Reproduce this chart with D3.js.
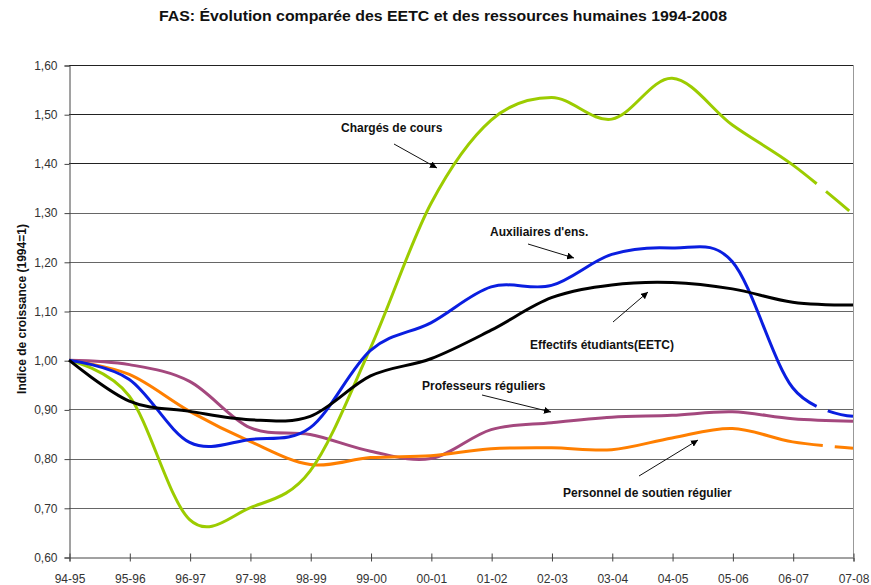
<!DOCTYPE html>
<html>
<head>
<meta charset="utf-8">
<script src="https://cdn.jsdelivr.net/npm/d3@7"></script>
<style>
  html, body { margin: 0; padding: 0; background: #fff; }
  svg { display: block; font-family: "Liberation Sans", Arial, sans-serif; }
</style>
</head>
<body>
<svg id="chart" width="871" height="585"></svg>
<script>
'use strict';

var YEARS = ['94-95', '95-96', '96-97', '97-98', '98-99', '99-00', '00-01',
  '01-02', '02-03', '03-04', '04-05', '05-06', '06-07', '07-08'];
var Y_TICKS = [0.6, 0.7, 0.8, 0.9, 1.0, 1.1, 1.2, 1.3, 1.4, 1.5, 1.6];

var CHARGES = [1.00, 0.927, 0.676, 0.70, 0.775, 1.025, 1.318, 1.488, 1.534, 1.49, 1.573, 1.478, 1.397, 1.297];
var AUXILIAIRES = [1.00, 0.961, 0.833, 0.839, 0.863, 1.02, 1.076, 1.149, 1.152, 1.215, 1.228, 1.20, 0.944, 0.886];
var EETC = [1.00, 0.917, 0.896, 0.879, 0.886, 0.968, 1.003, 1.061, 1.127, 1.153, 1.158, 1.145, 1.118, 1.112];
var PROFESSEURS = [1.00, 0.991, 0.957, 0.863, 0.849, 0.815, 0.800, 0.859, 0.873, 0.884, 0.888, 0.895, 0.881, 0.876];
var SOUTIEN = [1.00, 0.971, 0.896, 0.835, 0.788, 0.802, 0.806, 0.820, 0.822, 0.818, 0.842, 0.861, 0.834, 0.821];

var SERIES = [
  { name: 'Professeurs réguliers', values: PROFESSEURS, color: '#a4487e', dashEnd: false },
  { name: 'Personnel de soutien régulier', values: SOUTIEN, color: '#ff7f00', dashEnd: true },
  { name: 'Chargés de cours', values: CHARGES, color: '#9ccc00', dashEnd: true },
  { name: "Auxiliaires d'ens.", values: AUXILIAIRES, color: '#0a1ee0', dashEnd: true },
  { name: 'Effectifs étudiants(EETC)', values: EETC, color: '#000000', dashEnd: false }
];

// label anchor + arrow (from -> to), in pixels of the 871x585 frame
var NOTES = [
  { text: 'Chargés de cours', x: 341, y: 132, arrow: [394, 144, 437, 168] },
  { text: "Auxiliaires d'ens.", x: 490, y: 236, arrow: [528, 244, 574, 258] },
  { text: 'Effectifs étudiants(EETC)', x: 530, y: 349, arrow: [613, 322, 648, 292] },
  { text: 'Professeurs réguliers', x: 422, y: 390, arrow: [482, 395, 551, 412] },
  { text: 'Personnel de soutien régulier', x: 563, y: 497, arrow: [639, 476, 698, 440] }
];

var svg = d3.select('#chart');
var x = d3.scaleLinear().domain([0, YEARS.length - 1]).range([69, 853]);
var y = d3.scaleLinear().domain([0.6, 1.6]).range([557, 65]);

svg.append('defs').append('marker')
  .attr('id', 'arrow')
  .attr('viewBox', '0 0 10 10')
  .attr('refX', 10).attr('refY', 5)
  .attr('markerWidth', 7).attr('markerHeight', 7)
  .attr('markerUnits', 'userSpaceOnUse')
  .attr('orient', 'auto')
  .append('path').attr('d', 'M0,0 L10,5 L0,10 z').attr('fill', '#000');

// grid
svg.append('g').selectAll('line')
  .data(Y_TICKS.slice(1))
  .join('line')
  .attr('x1', x(0)).attr('x2', x(YEARS.length - 1))
  .attr('y1', function (d) { return Math.round(y(d)) + 0.5; })
  .attr('y2', function (d) { return Math.round(y(d)) + 0.5; })
  .attr('stroke', function (d) { return d >= 1.35 ? '#222' : '#666'; })
  .attr('stroke-width', 1);

// right border
svg.append('line')
  .attr('x1', x(YEARS.length - 1) + 0.5).attr('x2', x(YEARS.length - 1) + 0.5)
  .attr('y1', y(1.6)).attr('y2', y(0.6))
  .attr('stroke', '#999');

// y axis
var yAxis = d3.axisLeft(y)
  .tickValues(Y_TICKS)
  .tickSize(5)
  .tickPadding(7)
  .tickFormat(function (d) { return d.toFixed(2).replace('.', ','); });
var gy = svg.append('g').attr('transform', 'translate(' + (x(0) + 0.5) + ',0.5)').call(yAxis);
gy.select('.domain').attr('stroke', '#444');
gy.selectAll('.tick line').attr('stroke', '#444');
gy.selectAll('.tick text').style('font-size', '12px').style('font-family', '"Liberation Sans", Arial, sans-serif').attr('fill', '#333');

// x axis
var xAxis = d3.axisBottom(x)
  .tickValues(d3.range(YEARS.length))
  .tickSize(4)
  .tickPadding(13)
  .tickFormat(function (d) { return YEARS[d]; });
var gx = svg.append('g').attr('transform', 'translate(0.5,' + (y(0.6) + 0.5) + ')').call(xAxis);
gx.select('.domain').attr('stroke', '#444');
gx.selectAll('.tick line').attr('stroke', '#444').attr('y1', -4);
gx.selectAll('.tick text').style('font-size', '12px').style('font-family', '"Liberation Sans", Arial, sans-serif').attr('fill', '#333');

// lines
var line = d3.line()
  .x(function (d, i) { return x(i); })
  .y(function (d) { return y(d); })
  .curve(d3.curveCardinal.tension(0));

SERIES.forEach(function (s) {
  var path = svg.append('path')
    .attr('d', line(s.values))
    .attr('fill', 'none')
    .attr('stroke', s.color)
    .attr('stroke-width', 3)
    .attr('stroke-linejoin', 'round');
  if (!s.dashEnd) return;
  var node = path.node();
  var total = node.getTotalLength();
  var target = x(s.values.length - 2);
  var lo = 0, hi = total;
  for (var k = 0; k < 40; k++) {
    var mid = (lo + hi) / 2;
    if (node.getPointAtLength(mid).x < target) lo = mid; else hi = mid;
  }
  var dashes = [lo + 30];
  var run = lo + 30;
  while (run < total + 50) { dashes.push(12, 30); run += 42; }
  path.attr('stroke-dasharray', dashes.join(' '));
});

// annotations
NOTES.forEach(function (n) {
  svg.append('text')
    .attr('x', n.x).attr('y', n.y)
    .style('font-size', '12px')
    .style('font-weight', 'bold')
    .attr('fill', '#111')
    .text(n.text);
  svg.append('line')
    .attr('x1', n.arrow[0]).attr('y1', n.arrow[1])
    .attr('x2', n.arrow[2]).attr('y2', n.arrow[3])
    .attr('stroke', '#111').attr('stroke-width', 1)
    .attr('marker-end', 'url(#arrow)');
});

// title
svg.append('text')
  .attr('x', 443).attr('y', 21)
  .attr('text-anchor', 'middle')
  .style('font-size', '15px')
  .style('font-weight', 'bold')
  .attr('fill', '#111')
  .attr('textLength', 568)
  .attr('lengthAdjust', 'spacingAndGlyphs')
  .text('FAS: Évolution comparée des EETC et des ressources humaines 1994-2008');

// y axis title
svg.append('text')
  .attr('transform', 'translate(26,309) rotate(-90)')
  .attr('text-anchor', 'middle')
  .style('font-size', '12px')
  .style('font-weight', 'bold')
  .attr('fill', '#111')
  .text('Indice de croissance (1994=1)');
</script>
</body>
</html>
